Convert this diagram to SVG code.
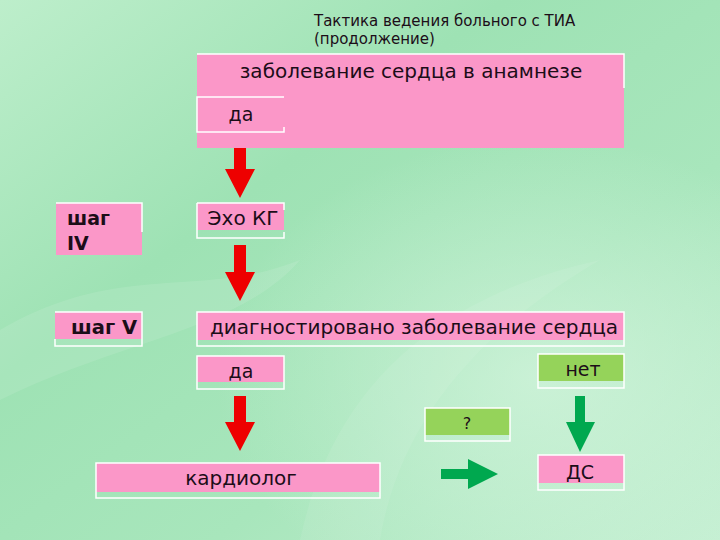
<svg xmlns="http://www.w3.org/2000/svg" width="720" height="540" viewBox="0 0 720 540">
<defs>
<linearGradient id="bg" x1="0" y1="0" x2="1" y2="1">
<stop offset="0" stop-color="#bdeecb"/>
<stop offset="0.35" stop-color="#9ee2b4"/>
<stop offset="0.65" stop-color="#a8e6bc"/>
<stop offset="1" stop-color="#c4efd2"/>
</linearGradient>
<radialGradient id="glow" cx="0.75" cy="0.7" r="0.45">
<stop offset="0" stop-color="#d6f5df" stop-opacity="0.7"/>
<stop offset="1" stop-color="#d6f5df" stop-opacity="0"/>
</radialGradient>
<style>
.pink{fill:#fb97c8}
.lime{fill:#95d35a}
.frame{fill:none;stroke:#ffffff;stroke-width:1.5}
.t{font-family:"DejaVu Sans",Verdana,sans-serif;fill:#1c0d18}
.b{font-weight:bold}
.red{fill:#ee0000}
.grn{fill:#00a84f}
</style>
</defs>
<rect width="720" height="540" fill="url(#bg)"/>
<rect width="720" height="540" fill="url(#glow)"/>
<path d="M0 330 C120 260 200 300 300 260 C240 330 120 340 0 400 Z" fill="#ffffff" opacity="0.1"/>
<path d="M300 540 C330 400 420 300 600 260 C480 330 400 420 380 540 Z" fill="#ffffff" opacity="0.08"/>

<text class="t" x="314" y="26" font-size="15">Тактика ведения больного с ТИА</text>
<text class="t" x="314" y="44" font-size="15">(продолжение)</text>

<g id="n-history">
<rect class="pink" x="197" y="54" width="427" height="94"/>
<path class="frame" d="M197 54 H624 V88"/>
<text class="t" x="411" y="78" font-size="20" text-anchor="middle">заболевание сердца в анамнезе</text>
</g>
<g id="n-yes1">
<path class="frame" d="M284 97 H197 V132 H284 V127"/>
<text class="t" x="241" y="121" font-size="19" text-anchor="middle">да</text>
</g>

<g id="n-step4">
<rect class="pink" x="56" y="203" width="86" height="52"/>
<path class="frame" d="M56 203 H142 V232"/>
<text class="t b" x="67" y="225" font-size="19">шаг</text>
<text class="t b" x="67" y="250" font-size="19">IV</text>
</g>
<g id="n-echo">
<rect class="pink" x="197" y="203" width="87" height="27"/>
<path class="frame" d="M197 203 H284 V210 M197 203 V238 H284 V232"/>
<text class="t" x="243" y="225" font-size="20" text-anchor="middle">Эхо КГ</text>
</g>

<g id="n-step5">
<rect class="pink" x="55" y="312" width="87" height="27"/>
<path class="frame" d="M55 312 H142 V346 H55 V339"/>
<text class="t b" x="137" y="334" font-size="19.5" text-anchor="end">шаг V</text>
</g>
<g id="n-diag">
<rect class="pink" x="197" y="312" width="427" height="28"/>
<path class="frame" d="M197 312 H624 V346 H197 Z"/>
<text class="t" x="414" y="334" font-size="20" text-anchor="middle">диагностировано заболевание сердца</text>
</g>

<g id="n-yes2">
<rect class="pink" x="197" y="356" width="87" height="26"/>
<path class="frame" d="M197 356 H284 V389 H197 Z"/>
<text class="t" x="241" y="378" font-size="19" text-anchor="middle">да</text>
</g>
<g id="n-no">
<rect class="lime" x="538" y="354" width="86" height="27"/>
<path class="frame" d="M538 354 H624 V388 H538 Z"/>
<text class="t" x="583" y="376" font-size="19" text-anchor="middle">нет</text>
</g>
<g id="n-q">
<rect class="lime" x="425" y="408" width="85" height="27"/>
<path class="frame" d="M425 408 H510 V441 H425 Z"/>
<text class="t" x="467" y="429" font-size="16" text-anchor="middle">?</text>
</g>
<g id="n-cardio">
<rect class="pink" x="96" y="463" width="284" height="29"/>
<path class="frame" d="M96 463 H380 V498 H96 Z"/>
<text class="t" x="241" y="485" font-size="20" text-anchor="middle">кардиолог</text>
</g>
<g id="n-ds">
<rect class="pink" x="538" y="455" width="86" height="28"/>
<path class="frame" d="M538 455 H624 V490 H538 Z"/>
<text class="t" x="580" y="479" font-size="19" text-anchor="middle">ДС</text>
</g>

<g id="connectors">
<path class="red" d="M234 148 H246 V169 H255 L240 198 L225 169 H234 Z"/>
<path class="red" d="M234 245 H246 V272 H255 L240 301 L225 272 H234 Z"/>
<path class="red" d="M234 396 H246 V422 H255 L240 451 L225 422 H234 Z"/>
<path class="grn" d="M575 396 H585 V422 H595 L580 452 L566 422 H575 Z"/>
<path class="grn" d="M441 469 H468 V459 L498 474 L468 489 V479 H441 Z"/>
</g>
</svg>
